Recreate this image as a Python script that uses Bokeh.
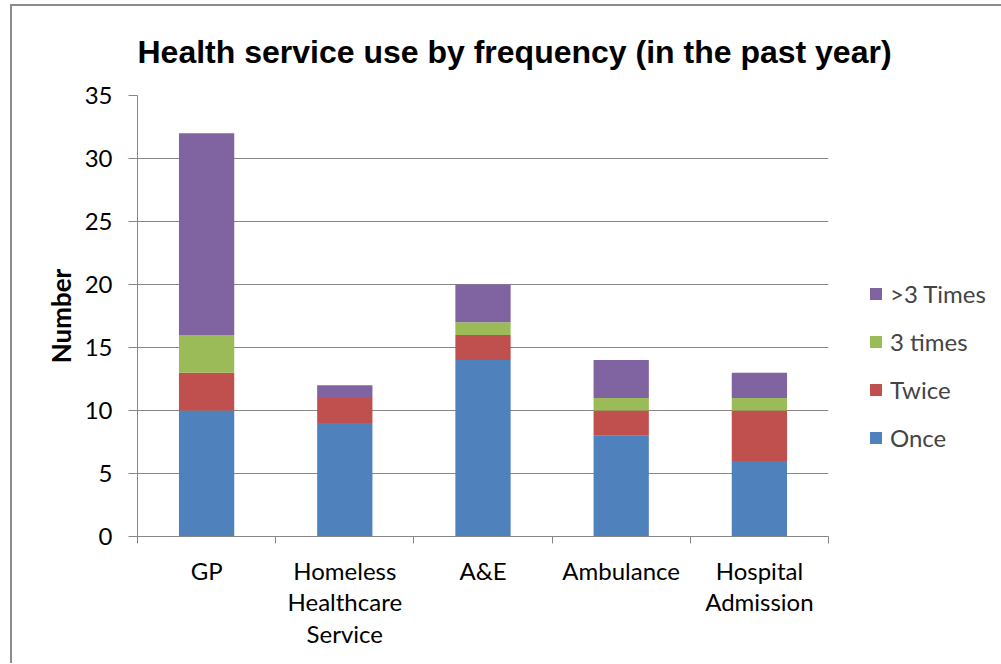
from bokeh.plotting import figure
from bokeh.models import FixedTicker, Legend, LegendItem, Range1d, ColumnDataSource
from bokeh.embed import file_html
from bokeh.resources import INLINE

categories = ["GP", "Homeless\nHealthcare\nService", "A&E", "Ambulance", "Hospital\nAdmission"]
once = [10, 9, 14, 8, 6]
twice = [3, 2, 2, 2, 4]
three_times = [3, 0, 1, 1, 1]
more_than_three = [16, 1, 3, 3, 2]
series_names = ["Once", "Twice", "3 times", ">3 Times"]
colors = ["#4F81BD", "#C0504D", "#9BBB59", "#8064A2"]
y_ticks = [0, 5, 10, 15, 20, 25, 30, 35]

x_pos = [i + 0.5 for i in range(len(categories))]
source = ColumnDataSource(dict(x=x_pos, Once=once, Twice=twice,
                               **{"3 times": three_times, ">3 Times": more_than_three}))

p = figure(frame_width=691, frame_height=441, min_border_left=137, min_border_right=172,
           min_border_top=95, min_border_bottom=127, output_backend="svg",
           toolbar_location=None, x_range=Range1d(0, len(categories)),
           y_range=Range1d(0, 35))

# outer chart border (left and top edges visible in the reference)
p.border_fill_alpha = 0
p.styles = {
    "background": ("linear-gradient(#8c8c8c, #8c8c8c) 10px 4px / 2px 100% no-repeat, "
                   "linear-gradient(#8c8c8c, #8c8c8c) 10px 4px / 100% 2px no-repeat, #ffffff"),
}

p.title.text = "Health service use by frequency (in the past year)"
p.title.text_font = "Liberation Sans"
p.title.text_font_style = "bold"
p.title.text_font_size = "32px"
p.title.align = "left"
p.title.standoff = 52
p.title.text_color = "#000000"

renderers = p.vbar_stack(series_names, x="x", width=0.4, color=colors, line_color=None, source=source)

grey = "#868686"
p.outline_line_color = None
p.xgrid.grid_line_color = None
p.ygrid.grid_line_color = grey
p.ygrid.grid_line_width = 1

p.yaxis.ticker = FixedTicker(ticks=y_ticks)
p.yaxis.axis_line_color = grey
p.yaxis.major_tick_line_color = grey
p.yaxis.major_tick_out = 9
p.yaxis.major_tick_in = 0
p.yaxis.minor_tick_line_color = None
p.yaxis.major_label_standoff = 16
p.yaxis.major_label_text_font = "Lato"
p.yaxis.major_label_text_font_size = "24px"
p.yaxis.major_label_text_color = "#000000"
p.yaxis.axis_label = "Number"
p.yaxis.axis_label_text_font = "Lato"
p.yaxis.axis_label_text_font_style = "bold"
p.yaxis.axis_label_text_font_size = "26px"
p.yaxis.axis_label_text_color = "#000000"
p.yaxis.axis_label_standoff = 5

p.xaxis.ticker = FixedTicker(ticks=x_pos, minor_ticks=list(range(len(categories) + 1)))
p.xaxis.major_label_overrides = {x: c for x, c in zip(x_pos, categories)}
p.xaxis.axis_line_color = grey
p.xaxis.major_tick_line_color = None
p.xaxis.major_tick_out = 0
p.xaxis.major_tick_in = 0
p.xaxis.minor_tick_line_color = grey
p.xaxis.minor_tick_out = 7
p.xaxis.minor_tick_in = 0
p.xaxis.major_label_standoff = 12
p.xaxis.major_label_text_font = "Lato"
p.xaxis.major_label_text_font_size = "24px"
p.xaxis.major_label_text_line_height = 1.1
p.xaxis.major_label_text_color = "#000000"

items = [LegendItem(label=n, renderers=[r]) for n, r in zip(series_names, renderers)][::-1]
legend = Legend(items=items, location=(40, 84), padding=0, margin=0,
                border_line_color=None, background_fill_alpha=0,
                glyph_width=15, glyph_height=15, label_standoff=7,
                label_text_font="Lato", label_text_font_size="24px",
                label_height=30, spacing=18)
p.add_layout(legend, "right")

open("out.html", "w").write(file_html(p, INLINE))
